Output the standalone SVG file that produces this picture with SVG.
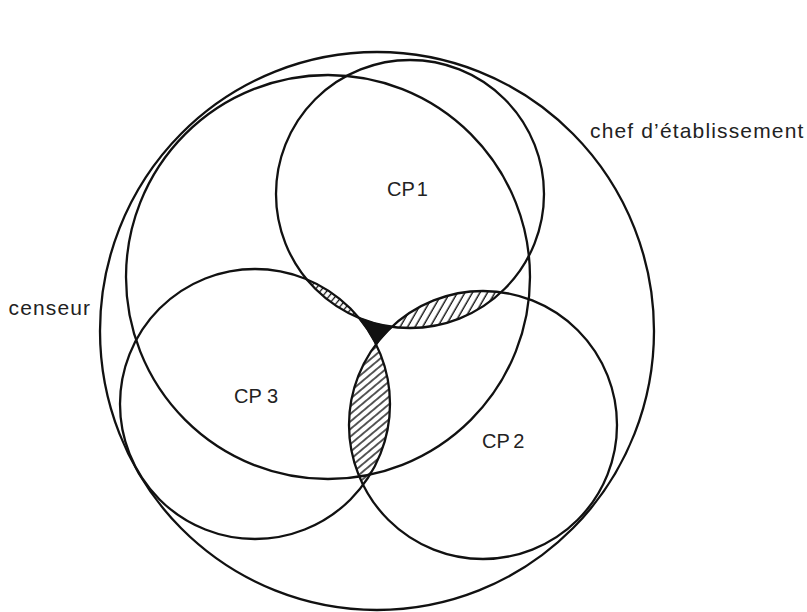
<svg xmlns="http://www.w3.org/2000/svg" width="807" height="612" viewBox="0 0 807 612">
  <style>
    .ring { fill: none; stroke: #111; stroke-width: 2.3; }
    .lbl { font-family: "Liberation Sans", Arial, sans-serif; fill: #222; }
    .big { font-size: 21px; letter-spacing: 1.15px; }
    .cp { font-size: 20px; }
  </style>
  <defs>
    <pattern id="hatchH" width="6.5" height="10" patternUnits="userSpaceOnUse" patternTransform="rotate(30)">
      <line x1="3" y1="-1" x2="3" y2="11" stroke="#111" stroke-width="1.4"/>
    </pattern>
    <pattern id="hatchV" width="5.8" height="10" patternUnits="userSpaceOnUse" patternTransform="rotate(50)">
      <line x1="2.9" y1="-1" x2="2.9" y2="11" stroke="#111" stroke-width="1.4"/>
    </pattern>
    <pattern id="hatchT" width="5" height="10" patternUnits="userSpaceOnUse" patternTransform="rotate(40)">
      <line x1="2.5" y1="-1" x2="2.5" y2="11" stroke="#111" stroke-width="1.3"/>
    </pattern>
    <clipPath id="clip1"><circle cx="410" cy="194" r="134"/></clipPath>
    <clipPath id="clip2"><circle cx="483" cy="425" r="134"/></clipPath>
    <clipPath id="clip3"><circle cx="255" cy="404" r="135"/></clipPath>
  </defs>
  <rect width="807" height="612" fill="#ffffff"/>

  <g id="shading">
    <g clip-path="url(#clip1)">
      <rect x="380" y="275" width="135" height="60" fill="url(#hatchH)" clip-path="url(#clip2)"/>
    </g>
    <g clip-path="url(#clip2)">
      <rect x="340" y="330" width="60" height="160" fill="url(#hatchV)" clip-path="url(#clip3)"/>
    </g>
    <g clip-path="url(#clip1)">
      <rect x="295" y="265" width="75" height="60" fill="url(#hatchT)" clip-path="url(#clip3)"/>
    </g>
    <path d="M 358.9 317.9 A 134 134 0 0 0 391.9 326.8 A 134 134 0 0 0 376.1 344.4 A 135 135 0 0 0 358.9 317.9 Z" fill="#111" stroke="#111" stroke-width="1.5"/>
  </g>

  <g id="chef">
    <ellipse class="ring" cx="377" cy="331" rx="277" ry="279"/>
    <text class="lbl big" x="590" y="137.5">chef d’établissement</text>
  </g>

  <g id="censeur">
    <circle class="ring" cx="328" cy="277" r="202"/>
    <text class="lbl big" x="8.5" y="315">censeur</text>
  </g>

  <g id="cp1">
    <circle class="ring" cx="410" cy="194" r="134"/>
    <text class="lbl cp" x="387" y="196">CP<tspan dx="2">1</tspan></text>
  </g>

  <g id="cp2">
    <circle class="ring" cx="483" cy="425" r="134"/>
    <text class="lbl cp" x="482" y="448">CP<tspan dx="3.5">2</tspan></text>
  </g>

  <g id="cp3">
    <circle class="ring" cx="255" cy="404" r="135"/>
    <text class="lbl cp" x="234" y="403">CP 3</text>
  </g>

  <g id="connectors"></g>
</svg>
